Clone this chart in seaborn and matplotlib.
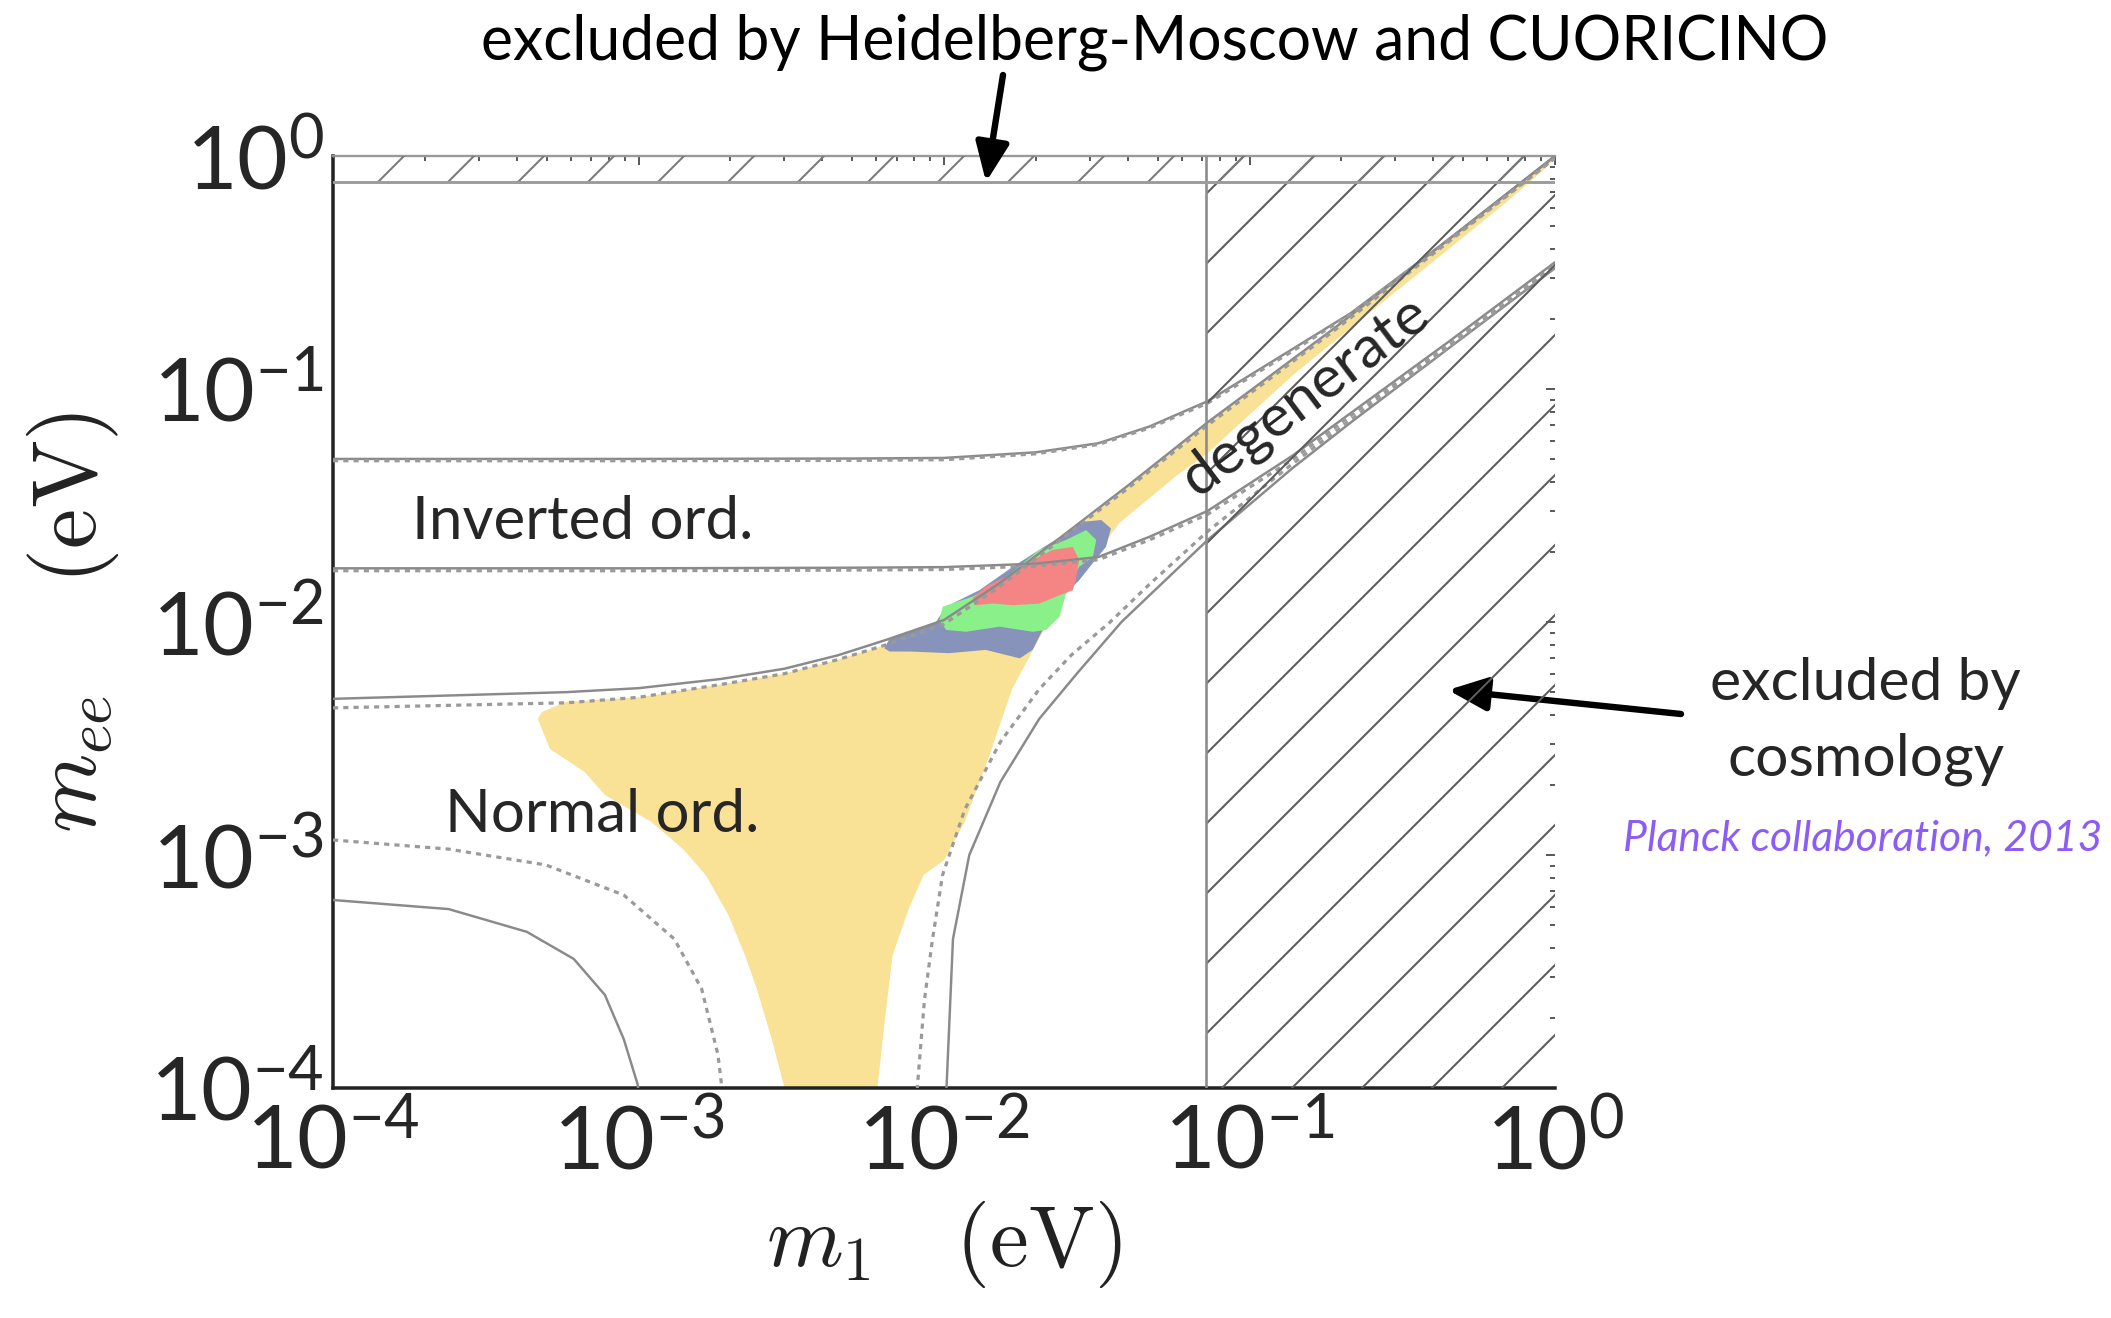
"""
Majorana mass m_ee versus lightest neutrino mass m1 (log-log), with
excluded regions, oscillation bands and the allowed scatter region.
"""

import matplotlib
matplotlib.use('Agg')
import matplotlib.pyplot as plt
import seaborn as sns

sns.set_theme(style='white')
plt.rcParams['font.family'] = ['Lato', 'DejaVu Sans']
plt.rcParams['mathtext.fontset'] = 'dejavusans'
plt.rcParams['axes.unicode_minus'] = False
plt.rcParams['hatch.linewidth'] = 0.35
plt.rcParams['hatch.color'] = '#5c5c5c'

# ---------------- data (eV) ----------------
# normal ordering, upper boundary
no_up_m1 = [1.0e-4, 5.8e-4, 1.0e-3, 1.87e-3, 3.0e-3, 4.5e-3, 6.5e-3, 1.0e-2,
            1.5e-2, 2.4e-2, 4.0e-2, 7.3e-2, 0.187, 0.45, 1.0]
no_up_mee = [4.68e-3, 5.0e-3, 5.2e-3, 5.7e-3, 6.3e-3, 7.2e-3, 8.4e-3, 1.02e-2,
             1.45e-2, 2.3e-2, 3.85e-2, 7.2e-2, 0.18, 0.44, 1.0]
no_up_dash_mee = [4.28e-3, 4.5e-3, 4.75e-3, 5.4e-3, 6.0e-3, 6.9e-3, 8.0e-3, 9.8e-3,
                  1.4e-2, 2.25e-2, 3.75e-2, 7.0e-2, 0.176, 0.43, 0.98]

# inverted ordering, upper and lower boundaries
io_m1 = [1.0e-4, 1.0e-3, 5.0e-3, 1.0e-2, 2.0e-2, 3.2e-2, 4.7e-2, 7.3e-2,
         0.139, 0.215, 0.45, 1.0]
io_up_mee = [0.0501, 0.0501, 0.0503, 0.0506, 0.0535, 0.0585, 0.069, 0.0887,
             0.149, 0.212, 0.44, 1.0]
io_up_dash_mee = [0.0492, 0.0492, 0.0494, 0.0497, 0.0527, 0.0578, 0.068, 0.087,
                  0.146, 0.21, 0.435, 0.98]
io_lo_mee = [0.0170, 0.0170, 0.0171, 0.0172, 0.0178, 0.0190, 0.0232, 0.030,
             0.052, 0.079, 0.16, 0.35]
io_lo_dash_mee = [0.0166, 0.0166, 0.0167, 0.0168, 0.0174, 0.0185, 0.0225, 0.029,
                  0.050, 0.077, 0.155, 0.34]

# normal ordering, lower boundary (cancellation region)
no_lo_left_dash_m1 = [1.0e-4, 2.39e-4, 4.98e-4, 8.95e-4, 1.31e-3, 1.61e-3, 1.82e-3, 1.87e-3, 1.9e-3]
no_lo_left_dash_mee = [1.16e-3, 1.06e-3, 9.06e-4, 6.73e-4, 4.36e-4, 2.66e-4, 1.39e-4, 1.03e-4, 8.0e-5]
no_lo_left_m1 = [1.0e-4, 2.39e-4, 4.31e-4, 6.14e-4, 7.76e-4, 8.95e-4, 9.95e-4, 1.01e-3]
no_lo_left_mee = [6.41e-4, 5.86e-4, 4.68e-4, 3.58e-4, 2.51e-4, 1.62e-4, 1.03e-4, 8.0e-5]
no_lo_right_dash_m1 = [8.1e-3, 8.19e-3, 8.63e-3, 9.16e-3, 9.89e-3, 1.17e-2, 1.53e-2, 2.05e-2,
                       2.61e-2, 3.5e-2, 4.7e-2, 7.3e-2, 0.139, 0.215, 0.45, 1.0]
no_lo_right_dash_mee = [8.0e-5, 1.03e-4, 2.39e-4, 4.31e-4, 8.2e-4, 1.57e-3, 3.06e-3, 5.15e-3,
                        7.21e-3, 1.0e-2, 1.45e-2, 2.45e-2, 4.8e-2, 7.4e-2, 0.152, 0.335]
no_lo_right_m1 = [1.01e-2, 1.02e-2, 1.07e-2, 1.21e-2, 1.53e-2, 2.05e-2, 2.75e-2, 3.81e-2,
                  4.7e-2, 7.3e-2, 0.139, 0.215, 0.45, 1.0]
no_lo_right_mee = [8.0e-5, 1.03e-4, 4.36e-4, 1.0e-3, 2.06e-3, 3.84e-3, 6.1e-3, 1.0e-2,
                   1.3e-2, 2.25e-2, 4.6e-2, 7.2e-2, 0.15, 0.33]

# allowed scatter region (outline)
yellow_m1 = [4.83e-4, 5.78e-4, 1.0e-3, 1.87e-3, 3.0e-3, 4.5e-3, 6.5e-3, 1.0e-2, 1.5e-2,
             2.4e-2, 4.0e-2, 7.3e-2, 0.187, 0.45, 1.0,
             1.0, 0.88, 0.70, 0.45, 0.25, 0.139, 0.0728, 0.0576, 0.0375, 0.0306, 0.0239,
             0.0205, 0.0167, 0.0141, 0.0117, 0.0100, 0.00857, 0.00766, 0.00679, 0.00639,
             0.00607, 0.0060, 0.0030, 0.00299, 0.00273, 0.00244, 0.00223, 0.00197,
             0.00166, 0.00140, 0.00110, 7.76e-4, 6.67e-4, 5.13e-4, 4.68e-4]
yellow_mee = [4.11e-3, 4.54e-3, 4.75e-3, 5.4e-3, 6.0e-3, 6.9e-3, 8.0e-3, 9.8e-3, 1.4e-2,
              2.25e-2, 3.8e-2, 7.1e-2, 0.178, 0.435, 0.99,
              0.97, 0.83, 0.64, 0.40, 0.215, 0.115, 0.053, 0.0424, 0.0266, 0.0185, 0.0124,
              0.0085, 0.00515, 0.00269, 0.00139, 9.5e-4, 8.2e-4, 5.86e-4, 3.72e-4, 1.92e-4,
              1.03e-4, 8.0e-5, 8.0e-5, 1.03e-4, 1.62e-4, 2.66e-4, 3.72e-4, 5.52e-4,
              8.2e-4, 1.06e-3, 1.39e-3, 1.81e-3, 2.27e-3, 2.85e-3, 3.84e-3]

# fit regions (1, 2, 3 sigma style blobs)
blue_m1 = [6.38e-3, 6.64e-3, 7.71e-3, 9.41e-3, 1.016e-2, 1.306e-2, 1.68e-2, 2.05e-2,
           2.51e-2, 2.84e-2, 3.27e-2, 3.52e-2, 3.39e-2, 3.07e-2, 2.77e-2, 2.51e-2,
           2.33e-2, 2.16e-2, 2.05e-2, 1.95e-2, 1.77e-2, 1.37e-2, 1.04e-2, 7.71e-3, 6.64e-3]
blue_mee = [7.71e-3, 8.51e-3, 9.08e-3, 1.0e-2, 1.164e-2, 1.37e-2, 1.726e-2, 2.04e-2,
            2.40e-2, 2.69e-2, 2.74e-2, 2.52e-2, 2.10e-2, 1.79e-2, 1.51e-2, 1.33e-2,
            1.164e-2, 9.86e-3, 8.65e-3, 7.59e-3, 6.98e-3, 7.59e-3, 7.35e-3, 7.47e-3, 7.47e-3]
green_m1 = [9.66e-3, 9.91e-3, 1.24e-2, 1.60e-2, 2.05e-2, 2.51e-2, 2.92e-2, 3.15e-2, 3.07e-2,
            2.77e-2, 2.51e-2, 2.39e-2, 2.16e-2, 1.95e-2, 1.52e-2, 1.18e-2, 1.016e-2]
green_mee = [1.02e-2, 1.164e-2, 1.285e-2, 1.56e-2, 2.04e-2, 2.25e-2, 2.48e-2, 2.25e-2, 1.90e-2,
             1.726e-2, 1.33e-2, 1.054e-2, 9.25e-3, 9.08e-3, 9.55e-3, 9.08e-3, 9.25e-3]
red_m1 = [1.24e-2, 1.37e-2, 1.68e-2, 1.95e-2, 2.27e-2, 2.64e-2, 2.77e-2, 2.70e-2, 2.64e-2,
          2.33e-2, 2.05e-2, 1.68e-2, 1.445e-2, 1.27e-2]
red_mee = [1.265e-2, 1.42e-2, 1.62e-2, 1.845e-2, 2.04e-2, 2.10e-2, 1.845e-2, 1.51e-2, 1.37e-2,
           1.285e-2, 1.20e-2, 1.18e-2, 1.20e-2, 1.18e-2]

# excluded regions
m1_cosmo = 0.072
mee_double_beta = 0.77

# ---------------- figure ----------------
DPI = 420
W, H = 2111, 1318
fig = plt.figure(figsize=(W / DPI, H / DPI), dpi=DPI)
ax = fig.add_axes([333 / W, 1 - 1088 / H, (1555 - 333) / W, (1088 - 156) / H])
ax.set_xscale('log')
ax.set_yscale('log')

SOLID = dict(color='#8a8a8a', lw=0.42)
DASH = dict(color='#9a9a9a', lw=0.55, ls=(0, (1.6, 1.6)))


def curve(m1, mee, style):
    sns.lineplot(x=m1, y=mee, ax=ax, sort=False, estimator=None, zorder=3, **style)


ax.fill(yellow_m1, yellow_mee, color='#f9e196', lw=0, zorder=1)
ax.fill(blue_m1, blue_mee, color='#8893bb', lw=0, zorder=2)
ax.fill(green_m1, green_mee, color='#8af08a', lw=0, zorder=2)
ax.fill(red_m1, red_mee, color='#f58585', lw=0, zorder=2)

curve(no_up_m1, no_up_mee, SOLID)
curve(no_up_m1, no_up_dash_mee, DASH)
curve(io_m1, io_up_mee, SOLID)
curve(io_m1, io_up_dash_mee, DASH)
curve(io_m1, io_lo_mee, SOLID)
curve(io_m1, io_lo_dash_mee, DASH)
curve(no_lo_left_m1, no_lo_left_mee, SOLID)
curve(no_lo_left_dash_m1, no_lo_left_dash_mee, DASH)
curve(no_lo_right_m1, no_lo_right_mee, SOLID)
curve(no_lo_right_dash_m1, no_lo_right_dash_mee, DASH)

# hatched exclusions
ax.axvspan(m1_cosmo, 1.0, fill=False, hatch='//', edgecolor='#5c5c5c', lw=0, zorder=4)
ax.axhspan(mee_double_beta, 1.0, fill=False, hatch='//', edgecolor='#7a7a7a', lw=0, zorder=4)
ax.axvline(m1_cosmo, color='#8c8c8c', lw=0.45, zorder=4)
ax.axhline(mee_double_beta, color='#9c9c9c', lw=0.5, zorder=4)

ax.set_xlim(1e-4, 1.0)
ax.set_ylim(1e-4, 1.0)

for side in ['left', 'bottom']:
    ax.spines[side].set_color('#222222')
    ax.spines[side].set_linewidth(0.6)
ax.spines['top'].set_color('#999999')
ax.spines['top'].set_linewidth(0.4)
ax.spines['right'].set_visible(False)

ax.tick_params(which='both', direction='in', top=True, right=True, color='#444444', width=0.3)
ax.tick_params(which='major', length=1.6, labelsize=15)
ax.tick_params(which='minor', length=0.9)
ax.tick_params(axis='x', pad=2.6)
ax.tick_params(axis='y', pad=1.6)

ax.set_xlabel(r'$m_1\ \ \ (\mathrm{eV})$', fontsize=15, labelpad=2.5,
              math_fontfamily='cm', color='#222222')
ax.set_ylabel(r'$m_{ee}\ \ \ \ (\mathrm{eV})$', fontsize=15.5, labelpad=5.0,
              math_fontfamily='cm', color='#222222')

# ---------------- annotations ----------------
fig.text(1155 / W, 1 - 42 / H, 'excluded by Heidelberg-Moscow and CUORICINO',
         ha='center', va='center', fontsize=10.4, color='black')
fig.text(412 / W, 1 - 539 / H, 'Inverted ord.', ha='left', va='baseline', fontsize=10.3)
fig.text(445 / W, 1 - 832 / H, 'Normal ord.', ha='left', va='baseline', fontsize=10.3)
fig.text(1305 / W, 1 - 396 / H, 'degenerate', ha='center', va='center', fontsize=10.2,
         rotation=37, rotation_mode='anchor')
fig.text(1865 / W, 1 - 700 / H, 'excluded by', ha='center', va='baseline', fontsize=10.1)
fig.text(1866 / W, 1 - 775 / H, 'cosmology', ha='center', va='baseline', fontsize=10.1)
fig.text(1863 / W, 1 - 850 / H, 'Planck collaboration, 2013', ha='center', va='baseline',
         fontsize=7.3, style='italic', color='#8b5cf6')

arrow = dict(arrowstyle='-|>,head_length=0.28,head_width=0.12', color='black', lw=1.1,
             shrinkA=0, shrinkB=0, mutation_scale=20)
ax.annotate('', xy=(986 / W, 1 - 182 / H), xytext=(1003 / W, 1 - 75 / H),
            xycoords='figure fraction', textcoords='figure fraction',
            arrowprops=arrow, annotation_clip=False)
ax.annotate('', xy=(1448 / W, 1 - 690 / H), xytext=(1681 / W, 1 - 714 / H),
            xycoords='figure fraction', textcoords='figure fraction',
            arrowprops=arrow, annotation_clip=False)

fig.savefig('out.png', dpi=DPI, facecolor='white')
